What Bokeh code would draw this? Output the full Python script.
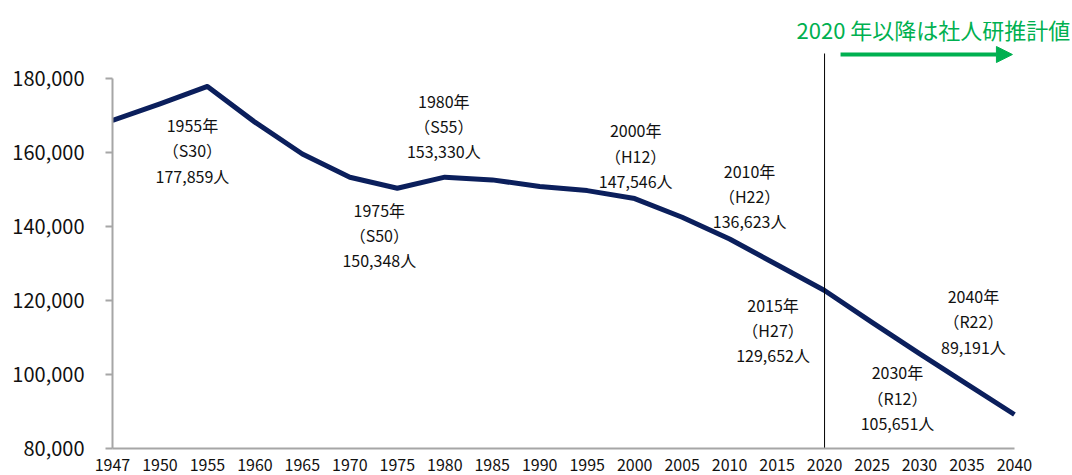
from bokeh.plotting import figure
from bokeh.models import (ColumnDataSource, Range1d, FixedTicker, NumeralTickFormatter,
                          Arrow, NormalHead, Label)
from bokeh.core.properties import value
from bokeh.embed import file_html
from bokeh.resources import INLINE

# ---------------- data ----------------
years = [1947, 1950, 1955, 1960, 1965, 1970, 1975, 1980, 1985, 1990,
         1995, 2000, 2005, 2010, 2015, 2020, 2025, 2030, 2035, 2040]
population = [168650, 173150, 177859, 168200, 159600, 153300, 150348, 153330, 152600, 150800,
              149700, 147546, 142500, 136623, 129652, 122700, 114100, 105651, 97400, 89191]

ann_years = [1955, 1975, 1980, 2000, 2010, 2015, 2030, 2040]
ann_eras = ["S30", "S50", "S55", "H12", "H22", "H27", "R12", "R22"]
# label offsets from the point, in screen pixels (dx right, dy down)
ann_dx = [-15, -18, -1, 1, 20, -4, -22, -41]
ann_dy = [64, 47, -51, -43, -43, 65, 44, -93]

y_ticks = [80000, 100000, 120000, 140000, 160000, 180000]
note_text = "2020 年以降は社人研推計値"
split_year = 2020

# ---------------- layout ----------------
W, H = 1072, 475
ML, MR, MT, MB = 112, 0, 0, 27
FRAME_W = W - ML - MR
FRAME_H = H - MT - MB
PXX = 47.47                 # pixels per category step
X_END = FRAME_W / PXX
Y_MIN, Y_MAX_AXIS = 80000, 180000
PXY = 370.0 / (Y_MAX_AXIS - Y_MIN)   # pixels per person
Y_END = Y_MIN + FRAME_H / PXY

FONT = "Noto Sans CJK JP"
NAVY = "#0b1f5c"
GREEN = "#00b050"
AXIS_GRAY = "#a6a6a6"

x_idx = list(range(len(years)))

p = figure(width=W, height=H, output_backend="svg", toolbar_location=None,
           x_range=Range1d(0, X_END), y_range=Range1d(Y_MIN, Y_END),
           min_border_left=ML, min_border_right=MR, min_border_top=MT,
           min_border_bottom=MB)
p.outline_line_color = None
p.xgrid.visible = False
p.ygrid.visible = False
p.background_fill_color = "white"
p.border_fill_color = "white"

# main line
src = ColumnDataSource(dict(x=x_idx, y=population))
p.line("x", "y", source=src, line_color=NAVY, line_width=5, line_join="round")

# vertical split line at 2020
i_split = years.index(split_year)
p.segment(x0=[i_split], y0=[Y_MIN], x1=[i_split], y1=[Y_MAX_AXIS + 25 / PXY],
          line_color="black", line_width=1)

# annotations
ax, ay, at = [], [], []
for yr, era, dx, dy in zip(ann_years, ann_eras, ann_dx, ann_dy):
    i = years.index(yr)
    v = population[i]
    ax.append(i + dx / PXX)
    ay.append(v - dy / PXY)
    at.append(f"{yr}年\n（{era}）\n{v:,}人")
asrc = ColumnDataSource(dict(x=ax, y=ay, t=at))
p.text("x", "y", text="t", source=asrc, text_align="center", text_baseline="middle",
       text_font=value(FONT), text_font_size="16px", text_color="#111111",
       text_line_height=1.05)

# green note and arrow
p.add_layout(Label(x=i_split - 28 / PXX, y=Y_MAX_AXIS + 50 / PXY, text=note_text,
                   text_font=FONT, text_font_size="22px", text_color=GREEN,
                   text_baseline="middle", text_align="left"))
i_last = len(years) - 1
p.add_layout(Arrow(x_start=i_split + 16 / PXX, y_start=Y_MAX_AXIS + 24 / PXY,
                   x_end=i_last - 2 / PXX, y_end=Y_MAX_AXIS + 24 / PXY,
                   line_color=GREEN, line_width=4,
                   end=NormalHead(size=16, fill_color=GREEN, line_color=GREEN)))

# axes
xa = p.xaxis[0]
xa.ticker = FixedTicker(ticks=x_idx)
xa.major_label_overrides = {i: str(y) for i, y in zip(x_idx, years)}
xa.bounds = (0, len(years) - 1)
xa.axis_line_color = AXIS_GRAY
xa.axis_line_width = 2
xa.major_tick_line_color = None
xa.minor_tick_line_color = None
xa.major_tick_out = 0
xa.major_tick_in = 0
xa.major_label_standoff = 10
xa.major_label_text_font = FONT
xa.major_label_text_font_size = "16px"
xa.major_label_text_color = "#111111"

ya = p.yaxis[0]
ya.ticker = FixedTicker(ticks=y_ticks)
ya.formatter = NumeralTickFormatter(format="0,0")
ya.bounds = (Y_MIN, Y_MAX_AXIS)
ya.axis_line_color = AXIS_GRAY
ya.axis_line_width = 2
ya.major_tick_line_color = AXIS_GRAY
ya.major_tick_line_width = 2
ya.major_tick_out = 7
ya.major_tick_in = 0
ya.minor_tick_line_color = None
ya.major_label_standoff = 21
ya.major_label_text_font = FONT
ya.major_label_text_font_size = "20px"
ya.major_label_text_color = "#111111"

open("out.html", "w").write(file_html(p, INLINE))
